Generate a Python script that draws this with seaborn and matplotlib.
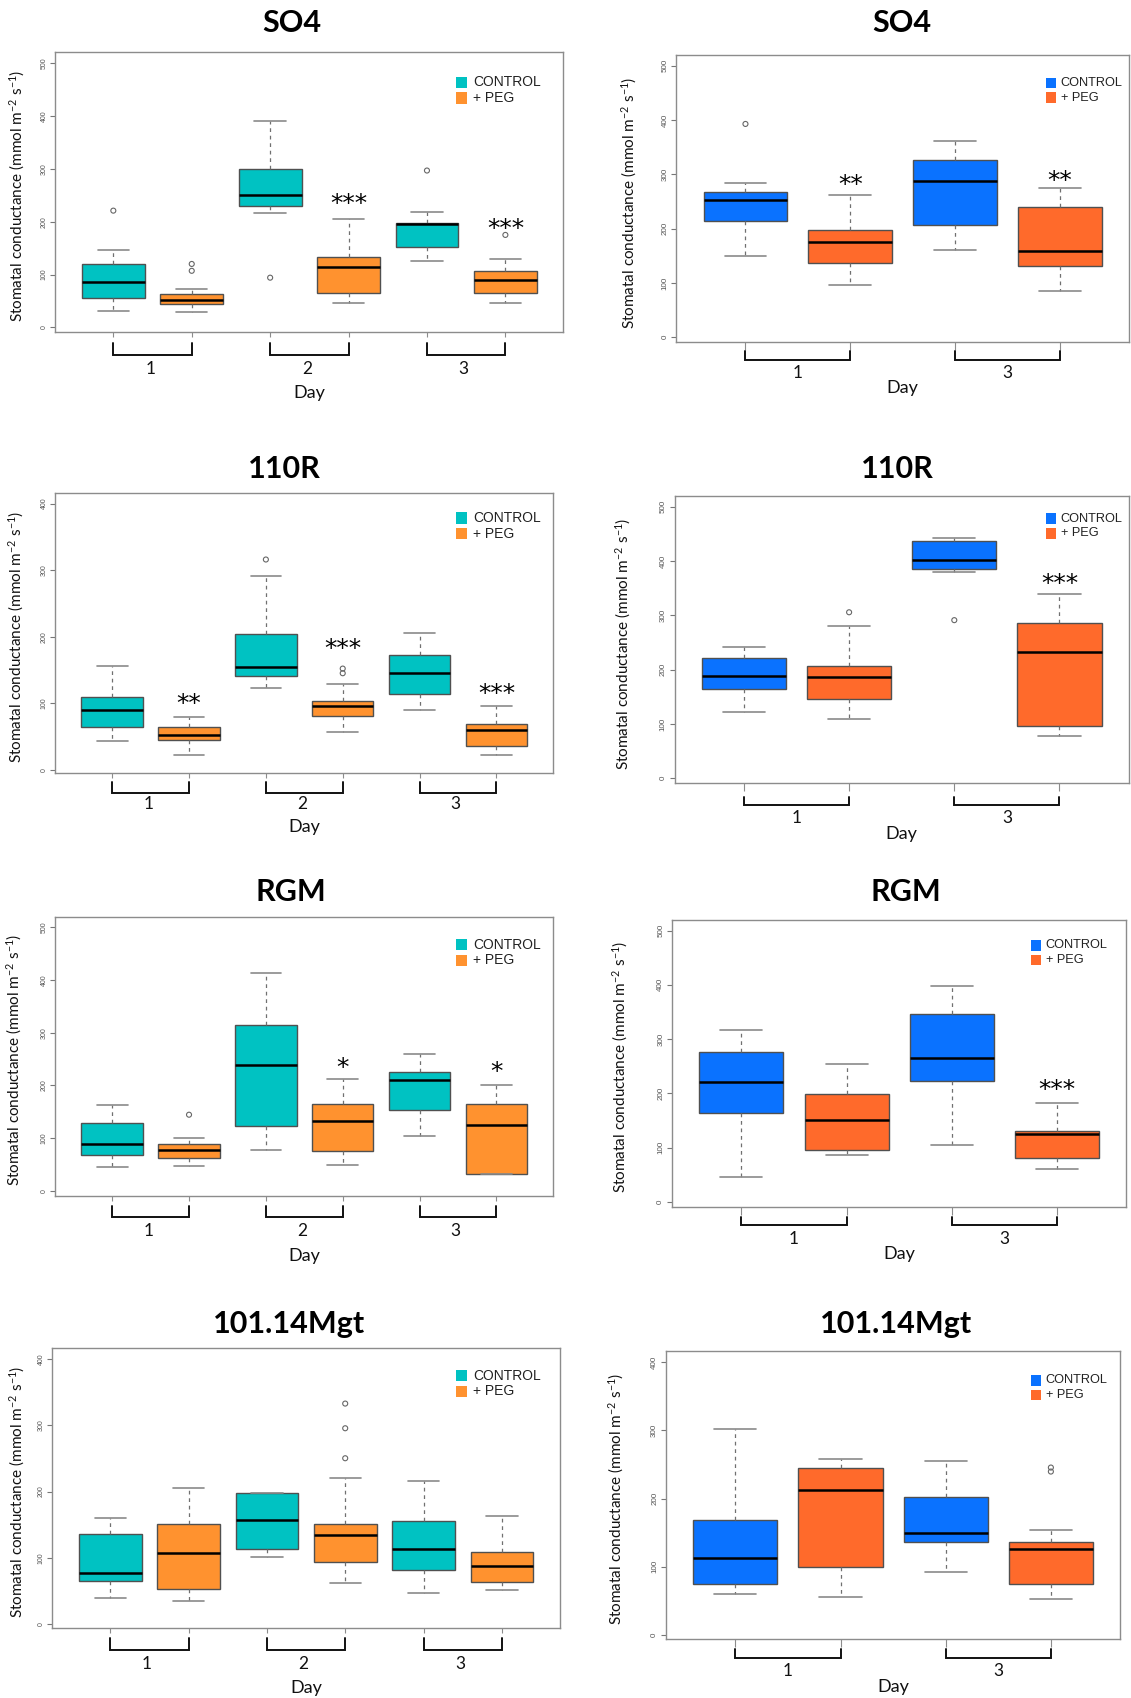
import numpy as np
import pandas as pd
import matplotlib
matplotlib.use("Agg")
import matplotlib.pyplot as plt
import matplotlib.transforms as mtransforms
from matplotlib.patches import Rectangle
import seaborn as sns

sns.set_theme(style="white")
plt.rcParams["font.family"] = ["Lato", "DejaVu Sans"]

W, H = 1131, 1698
fig = plt.figure(figsize=(W / 100, H / 100), dpi=100)

TREATMENTS = ["CONTROL", "+ PEG"]
TEAL_ORANGE = ["#00C2C2", "#FF922F"]
BLUE_RED = ["#0A72FF", "#FF6A2B"]

# Box summaries: [lower whisker, Q1, median, Q3, upper whisker] per day
days_three = ["1", "2", "3"]
days_two = ["1", "3"]

# ---- SO4 ----
so4_a_control = [[31.6, 56.2, 86.5, 119.3, 146.5], [215.9, 230.4, 250.6, 299.9, 391.4], [125.0, 151.5, 195.7, 198.2, 217.8]]
so4_a_peg = [[29.7, 43.6, 52.4, 62.5, 72.0], [46.7, 64.4, 113.6, 133.8, 205.2], [46.7, 64.4, 89.6, 107.3, 129.4]]
so4_a_out_control = [[221], [94], [297]]
so4_a_out_peg = [[120, 107], [], [175]]
so4_a_stars = ["", "***", "***"]
so4_a_star_y = [0, 250, 203]

so4_b_control = [[149, 213.5, 252, 267, 283.5], [160.5, 206.5, 287.5, 327, 362]]
so4_b_peg = [[95.5, 137, 176, 197, 263], [85.5, 132, 158.5, 240, 275]]
so4_b_out_control = [[393], []]
so4_b_out_peg = [[], []]
so4_b_stars = ["**", "**"]
so4_b_star_y = [296, 304]

# ---- 110R ----
r110_a_control = [[43.6, 63.7, 89.2, 109.3, 156.4], [122.3, 140.4, 154.9, 203.5, 291.7], [89.2, 113.3, 145.9, 171.9, 205.5]]
r110_a_peg = [[21.6, 44.6, 52.6, 63.7, 78.7], [57.1, 80.7, 95.2, 103.8, 129.3], [21.6, 36.1, 59.1, 68.2, 95.2]]
r110_a_out_control = [[], [316], []]
r110_a_out_peg = [[], [152, 145], []]
r110_a_stars = ["**", "***", "***"]
r110_a_star_y = [112, 193.5, 127]

r110_b_control = [[122, 164, 188, 222, 241], [380, 386, 402.5, 437.5, 442.5]]
r110_b_peg = [[110, 146, 187, 207, 280], [77, 97, 233, 286.5, 339]]
r110_b_out_control = [[], [291]]
r110_b_out_peg = [[305.5], []]
r110_b_stars = ["", "***"]
r110_b_star_y = [0, 373]

# ---- RGM ----
rgm_a_control = [[44.8, 67.6, 89.0, 128.2, 162.9], [77.0, 122.5, 239.3, 313.8, 412.9], [103.5, 154.0, 209.6, 226.0, 258.8]]
rgm_a_peg = [[47.3, 63.1, 78.3, 89.6, 99.7], [49.9, 75.8, 131.9, 164.1, 212.8], [31.6, 31.6, 125.6, 164.8, 200.1]]
rgm_a_out_control = [[], [], []]
rgm_a_out_peg = [[144.6], [], []]
rgm_a_stars = ["", "*", "*"]
rgm_a_star_y = [0, 249, 242]

rgm_b_control = [[46.6, 163.2, 220.2, 276.7, 316], [105.5, 223.3, 265.6, 346.6, 398.2]]
rgm_b_peg = [[85.9, 95.1, 150.9, 198.8, 253.4], [60.1, 81, 124.5, 131.3, 181.6]]
rgm_b_out_control = [[], []]
rgm_b_out_peg = [[], []]
rgm_b_stars = ["", "***"]
rgm_b_star_y = [0, 221.5]

# ---- 101.14Mgt ----
mgt_a_control = [[39.2, 65.8, 77.9, 135.7, 160.3], [101.0, 114.1, 157.3, 197.5, 198.5], [46.7, 81.9, 113.1, 155.3, 216.6]]
mgt_a_peg = [[34.7, 52.8, 107.5, 151.3, 205.0], [62.8, 93.5, 135.2, 151.8, 220.1], [51.8, 63.3, 87.9, 109.5, 163.3]]
mgt_a_out_control = [[], [], []]
mgt_a_out_peg = [[], [332.7, 295.5, 250.3], []]
mgt_a_stars = ["", "", ""]
mgt_a_star_y = [0, 0, 0]

mgt_b_control = [[59.7, 74.8, 113.4, 168.7, 301.7], [92.9, 136.4, 149.1, 202, 255.7]]
mgt_b_peg = [[55.3, 100.2, 212.7, 244.5, 258.2], [53.3, 74.8, 125.7, 136.4, 153.5]]
mgt_b_out_control = [[], []]
mgt_b_out_peg = [[], [245.5, 239.6]]
mgt_b_stars = ["", ""]
mgt_b_star_y = [0, 0]

LEFT_STYLE = dict(colors=TEAL_ORANGE, ytick_size=5.0, legend_sq=11.3, legend_pitch=15.7,
                  legend_gap=6.0, legend_fs=10, xtick_len=5, day_shift=-0.03)
RIGHT_STYLE = dict(colors=BLUE_RED, ytick_size=5.8, legend_sq=10.5, legend_pitch=14.7,
                   legend_gap=4.5, legend_fs=9.2, xtick_len=8, day_shift=0.0)

panels = [
    dict(title="SO4", days=days_three, control=so4_a_control, peg=so4_a_peg,
         out_control=so4_a_out_control, out_peg=so4_a_out_peg, stars=so4_a_stars, star_y=so4_a_star_y,
         frame=(55.3, 52.3, 563.4, 332.3), title_xy=(291.9, 31.7), ylabel_x=17,
         ylim=(-9.5, 521), ymax=500, bracket=(11, 22.7, 37, 61), legend_xy=(455.5, 76.7), **LEFT_STYLE),
    dict(title="SO4", days=days_two, control=so4_b_control, peg=so4_b_peg,
         out_control=so4_b_out_control, out_peg=so4_b_out_peg, stars=so4_b_stars, star_y=so4_b_star_y,
         frame=(676.3, 55.0, 1129.0, 342.3), title_xy=(902, 31.7), ylabel_x=629,
         ylim=(-9.2, 520), ymax=500, bracket=(8.4, 17.7, 31, 46), legend_xy=(1045.8, 77.7), **RIGHT_STYLE),
    dict(title="110R", days=days_three, control=r110_a_control, peg=r110_a_peg,
         out_control=r110_a_out_control, out_peg=r110_a_out_peg, stars=r110_a_stars, star_y=r110_a_star_y,
         frame=(55.3, 493.0, 553.3, 773.0), title_xy=(284.3, 477.7), ylabel_x=16.4,
         ylim=(-5, 416), ymax=400, bracket=(8.7, 19.7, 31, 53.7), legend_xy=(455.5, 512.3), **LEFT_STYLE),
    dict(title="110R", days=days_two, control=r110_b_control, peg=r110_b_peg,
         out_control=r110_b_out_control, out_peg=r110_b_out_peg, stars=r110_b_stars, star_y=r110_b_star_y,
         frame=(674.5, 495.7, 1128.9, 783.3), title_xy=(897.4, 478.3), ylabel_x=623.7,
         ylim=(-9.2, 520), ymax=500, bracket=(13.3, 21.7, 35, 50.7), legend_xy=(1045.8, 513.3), **RIGHT_STYLE),
    dict(title="RGM", days=days_three, control=rgm_a_control, peg=rgm_a_peg,
         out_control=rgm_a_out_control, out_peg=rgm_a_out_peg, stars=rgm_a_stars, star_y=rgm_a_star_y,
         frame=(55.3, 916.7, 553.3, 1196.0), title_xy=(290.8, 900.7), ylabel_x=13.8,
         ylim=(-9.5, 520), ymax=500, bracket=(9.7, 20.7, 35, 60), legend_xy=(455.5, 939.0), **LEFT_STYLE),
    dict(title="RGM", days=days_two, control=rgm_b_control, peg=rgm_b_peg,
         out_control=rgm_b_out_control, out_peg=rgm_b_out_peg, stars=rgm_b_stars, star_y=rgm_b_star_y,
         frame=(672.0, 919.7, 1126.4, 1207.0), title_xy=(906.3, 900.7), ylabel_x=620,
         ylim=(-9.2, 520), ymax=500, bracket=(9.7, 18, 32, 47.3), legend_xy=(1030.5, 940.0), **RIGHT_STYLE),
    dict(title="101.14Mgt", days=days_three, control=mgt_a_control, peg=mgt_a_peg,
         out_control=mgt_a_out_control, out_peg=mgt_a_out_peg, stars=mgt_a_stars, star_y=mgt_a_star_y,
         frame=(52.3, 1348.3, 559.8, 1628.3), title_xy=(289, 1333.3), ylabel_x=17,
         ylim=(-6, 416), ymax=400, bracket=(10, 21.7, 35.7, 60), legend_xy=(455.5, 1370.0), **LEFT_STYLE),
    dict(title="101.14Mgt", days=days_two, control=mgt_b_control, peg=mgt_b_peg,
         out_control=mgt_b_out_control, out_peg=mgt_b_out_peg, stars=mgt_b_stars, star_y=mgt_b_star_y,
         frame=(665.9, 1351.3, 1120.3, 1639.0), title_xy=(895.6, 1333.3), ylabel_x=616.5,
         ylim=(-6, 416), ymax=400, bracket=(10.3, 18.7, 32, 47.7), legend_xy=(1030.5, 1375.0), **RIGHT_STYLE),
]

YLABEL = "Stomatal conductance (mmol m$\\mathregular{^{-2}}$ s$\\mathregular{^{-1}}$)"
STAR_SIZE = 18
STAR_DROP = 15.5  # pixels between asterisk centre and text baseline


def draw_panel(p):
    l, t, r, b = p["frame"]
    ax = fig.add_axes([l / W, 1 - b / H, (r - l) / W, (b - t) / H])
    ax_h = b - t
    n_days = len(p["days"])
    n = 2 * n_days

    rows = []
    for d in range(n_days):
        for k, stats in enumerate((p["control"][d], p["peg"][d])):
            for v in stats:
                rows.append((2 * d + k, TREATMENTS[k], v))
    df = pd.DataFrame(rows, columns=["box", "treatment", "gs"])

    sns.boxplot(data=df, x="box", y="gs", hue="treatment", hue_order=TREATMENTS,
                order=list(range(n)), palette=dict(zip(TREATMENTS, p["colors"])),
                dodge=False, width=0.8, whis=(0, 100), saturation=1, showfliers=False,
                linecolor="#505050", linewidth=1.0,
                medianprops=dict(color="black", linewidth=1.8),
                whiskerprops=dict(color="#707070", linewidth=0.9, linestyle=(0, (3, 3))),
                capprops=dict(color="#8a8a8a", linewidth=1.2),
                legend=False, ax=ax)

    # outlying observations as open circles
    ox, oy = [], []
    for d in range(n_days):
        for k, outs in enumerate((p["out_control"][d], p["out_peg"][d])):
            for v in outs:
                ox.append(2 * d + k)
                oy.append(v)
    if ox:
        ax.scatter(ox, oy, s=13, facecolors="none", edgecolors="#666666", linewidths=0.8, zorder=5)

    # significance marks above the PEG boxes
    star_tr = mtransforms.offset_copy(ax.transData, fig=fig, y=-STAR_DROP, units="dots")
    for d, (txt, y) in enumerate(zip(p["stars"], p["star_y"])):
        if txt:
            ax.text(2 * d + 1, y, txt, transform=star_tr, ha="center", va="baseline",
                    fontsize=STAR_SIZE, family="DejaVu Sans", color="black")

    pad = 0.04 * n
    ax.set_xlim(-0.5 - pad, n - 0.5 + pad)
    ax.set_ylim(*p["ylim"])
    ax.set_xticks(range(n))
    ax.set_xticklabels([])
    ax.set_yticks(np.arange(0, p["ymax"] + 1, 100))
    ax.set_xlabel("")
    ax.set_ylabel("")
    for sp in ax.spines.values():
        sp.set_visible(True)
        sp.set_color("#8c8c8c")
        sp.set_linewidth(1.0)
    ax.tick_params(axis="x", bottom=True, direction="out", length=p["xtick_len"] * 0.72,
                   width=0.8, color="#8c8c8c")
    ax.tick_params(axis="y", left=True, direction="out", length=3.6, width=0.8,
                   color="#777777", labelsize=p["ytick_size"], labelcolor="#555555", pad=2)
    for lab in ax.get_yticklabels():
        lab.set_rotation(90)
        lab.set_va("center")
        lab.set_family("Liberation Sans")

    # day brackets joining the two boxes of each day
    d1, d2, d3, d4 = p["bracket"]
    xt = ax.get_xaxis_transform()
    for d, day in enumerate(p["days"]):
        x0, x1 = 2 * d, 2 * d + 1
        ax.plot([x0, x0, x1, x1], [-d1 / ax_h, -d2 / ax_h, -d2 / ax_h, -d1 / ax_h],
                transform=xt, color="#111111", lw=1.4, clip_on=False, solid_joinstyle="miter")
        ax.text((x0 + x1) / 2 + p["day_shift"], -d3 / ax_h, day, transform=xt, ha="center",
                va="center", fontsize=12.5, color="#111111")
    fig.text(((l + r) / 2) / W, 1 - (b + d4) / H, "Day", ha="center", va="center",
             fontsize=13, color="#111111")

    fig.text(p["ylabel_x"] / W, 1 - ((t + b) / 2 + 4) / H, YLABEL, rotation=90,
             ha="center", va="center", fontsize=11, color="#111111")

    fig.text(p["title_xy"][0] / W, 1 - p["title_xy"][1] / H, p["title"], ha="center",
             va="baseline", fontsize=22, fontweight="bold", color="black")

    # legend squares and labels
    lx, ly = p["legend_xy"]
    sq = p["legend_sq"]
    for k, (lab, col) in enumerate(zip(TREATMENTS, p["colors"])):
        top = ly + k * p["legend_pitch"]
        fig.add_artist(Rectangle((lx / W, 1 - (top + sq) / H), sq / W, sq / H,
                                 transform=fig.transFigure, facecolor=col, edgecolor="none"))
        fig.text((lx + sq + p["legend_gap"]) / W, 1 - (top + sq / 2) / H, lab, ha="left",
                 va="center", fontsize=p["legend_fs"], family="Liberation Sans", color="#222222")


for panel in panels:
    draw_panel(panel)

fig.savefig("out.png", dpi=100, facecolor="white")
